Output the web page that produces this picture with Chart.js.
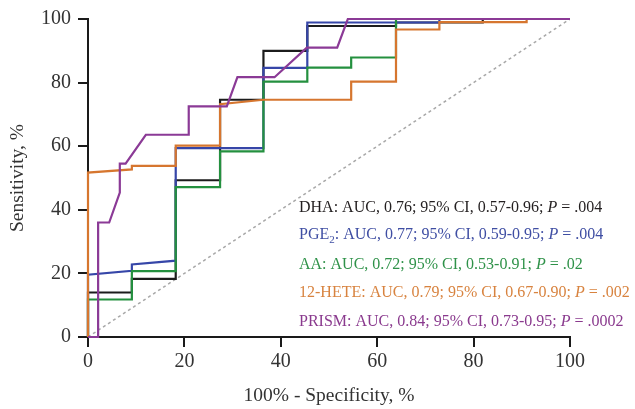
<!DOCTYPE html>
<html lang="en">
<head>
    <meta charset="UTF-8">
    <title>ROC curves</title>
    <script src="https://cdn.jsdelivr.net/npm/chart.js"></script>
    <style>
        body { margin: 0; background: #fff; }
    </style>
</head>
<body>
    <canvas id="rocChart" width="635" height="409"></canvas>

    <script>
        // curve points: [100% - specificity, sensitivity]
        const dhaPoints = [[0,0],[0,14],[9.1,14],[9.1,18.3],[18.2,18.3],[18.2,49.3],[27.4,49.3],[27.4,74.6],
            [36.4,74.6],[36.4,90],[45.5,90],[45.5,97.8],[63.9,97.8],[63.9,98.9],[81.9,98.9],[81.9,100],[100,100]];
        const pge2Points = [[0,0],[0,19.6],[9.1,20.8],[9.1,22.8],[18.2,24],[18.2,59.4],[36.4,59.4],[36.4,84.6],
            [45.5,84.6],[45.5,98.9],[72.9,98.9],[72.9,100],[100,100]];
        const aaPoints = [[0,0],[0,11.8],[9.1,11.8],[9.1,20.7],[18.2,20.7],[18.2,47.1],[27.4,47.1],[27.4,58.4],
            [36.4,58.4],[36.4,80.3],[45.5,80.3],[45.5,84.7],[54.6,84.7],[54.6,87.9],[63.9,87.9],[63.9,100],[100,100]];
        const heteePoints = [[0,0],[0,51.7],[9.1,52.7],[9.1,53.8],[18.2,53.8],[18.2,60.2],[27.4,60.2],[27.4,73.2],
            [36.4,74.6],[54.6,74.6],[54.6,80.3],[63.9,80.3],[63.9,96.7],[72.9,96.7],[72.9,99],[91,99],[91,100],[100,100]];
        const prismPoints = [[0,0],[2.1,0],[2.1,36],[4.4,36],[6.6,45.4],[6.6,54.5],[7.8,54.5],[12,63.6],[20.9,63.6],
            [20.9,72.5],[28.8,72.5],[31,81.7],[38.7,81.7],[45.4,91],[51.7,91],[53.9,100],[100,100]];
        const chancePoints = [[0,0],[100,100]];

        // legend text
        const markerNames = ['DHA', 'PGE', 'AA', '12-HETE', 'PRISM'];
        const aucValues = ['0.76', '0.77', '0.72', '0.79', '0.84'];
        const ciLow = ['0.57', '0.59', '0.53', '0.67', '0.73'];
        const ciHigh = ['0.96', '0.95', '0.91', '0.90', '0.95'];
        const pValues = ['.004', '.004', '.02', '.002', '.0002'];

        const axisTicks = [0, 20, 40, 60, 80, 100];

        const lineColors = ['#1c1c1c', '#3646a8', '#24903f', '#d6762f', '#8b3a96'];
        const textColors = ['#231f20', '#3f4ea3', '#2f9249', '#d8833f', '#8a3a8e'];
        const serif = '"Liberation Serif", "DejaVu Serif", serif';

        const toXY = pts => pts.map(p => ({x: p[0], y: p[1]}));
        const curves = [dhaPoints, pge2Points, aaPoints, heteePoints, prismPoints];

        const datasets = curves.map((pts, i) => ({
            label: markerNames[i],
            data: toXY(pts),
            borderColor: lineColors[i],
            borderWidth: 2.2,
            pointRadius: 0,
            tension: 0,
            clip: false,
            order: 5 - i
        }));
        datasets.push({
            label: 'chance',
            data: toXY(chancePoints),
            borderColor: '#a8a8a8',
            borderWidth: 1.5,
            borderDash: [3, 3],
            pointRadius: 0,
            order: 10
        });

        // AUC text block drawn on top of the plot
        const aucText = {
            id: 'aucText',
            afterDraw(chart) {
                const ctx = chart.ctx;
                const x0 = 299;
                const baselines = [212, 238.5, 269, 297, 326];
                const size = 16;
                ctx.save();
                ctx.textBaseline = 'alphabetic';
                ctx.textAlign = 'left';
                markerNames.forEach((name, i) => {
                    let x = x0;
                    const y = baselines[i];
                    ctx.fillStyle = textColors[i];
                    const put = (txt, font, dy) => {
                        ctx.font = font;
                        ctx.fillText(txt, x, y + (dy || 0));
                        x += ctx.measureText(txt).width;
                    };
                    put(name, size + 'px ' + serif);
                    if (name === 'PGE') put('2', '11px ' + serif, 4);
                    put(': AUC, ' + aucValues[i] + '; 95% CI, ' + ciLow[i] + '-' + ciHigh[i] + '; ', size + 'px ' + serif);
                    put('P', 'italic ' + size + 'px ' + serif);
                    put(' = ' + pValues[i], size + 'px ' + serif);
                });
                ctx.restore();
            }
        };

        const axisStyle = (title, titlePad) => ({
            type: 'linear',
            min: 0,
            max: 100,
            afterBuildTicks: scale => { scale.ticks = axisTicks.map(v => ({value: v})); },
            border: { display: true, color: '#1a1a1a', width: 2 },
            grid: { drawOnChartArea: false, drawTicks: true, tickLength: 10, color: '#1a1a1a', lineWidth: 2 },
            ticks: { color: '#333', font: { family: serif, size: 20 } },
            title: { display: true, text: title, color: '#333', font: { family: serif, size: 19.5 }, padding: titlePad }
        });

        const xAxis = axisStyle('100% - Specificity, %', { top: 0, bottom: 1 });
        xAxis.ticks.padding = 3;
        xAxis.afterFit = scale => { scale.height = 72; };
        const yAxis = axisStyle('Sensitivity, %', { top: 6, bottom: 0 });
        yAxis.ticks.padding = 7;
        yAxis.afterFit = scale => { scale.width = 88; };

        new Chart(document.getElementById('rocChart').getContext('2d'), {
            type: 'line',
            data: { datasets: datasets },
            options: {
                responsive: false,
                animation: false,
                layout: { padding: { top: 17, right: 65, left: 0, bottom: 0 } },
                plugins: { legend: { display: false }, tooltip: { enabled: false } },
                scales: { x: xAxis, y: yAxis }
            },
            plugins: [aucText]
        });
    </script>
</body>
</html>
